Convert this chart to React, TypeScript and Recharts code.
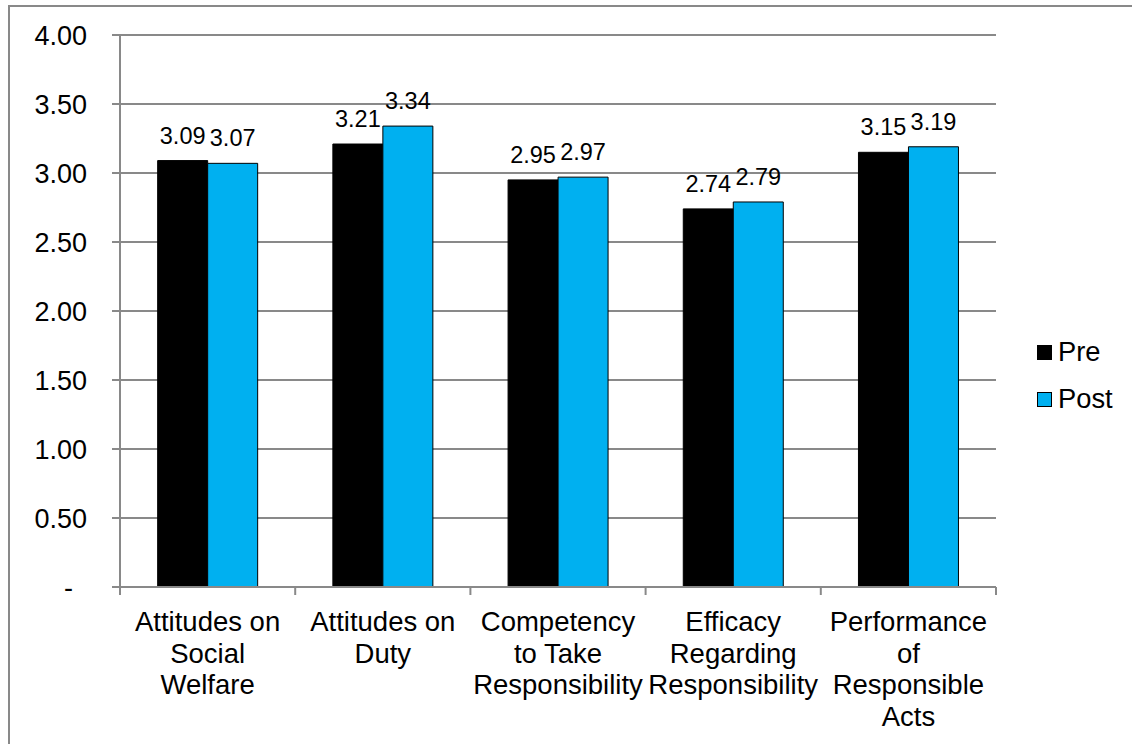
import React from 'react';
import { BarChart, Bar, XAxis, YAxis, CartesianGrid, LabelList, Legend } from 'recharts';

// Survey dimensions (x categories) and how each label wraps under the axis
const categories = [
  'Attitudes on Social Welfare',
  'Attitudes on Duty',
  'Competency to Take Responsibility',
  'Efficacy Regarding Responsibility',
  'Performance of Responsible Acts',
];
const categoryLines = [
  ['Attitudes on', 'Social', 'Welfare'],
  ['Attitudes on', 'Duty'],
  ['Competency', 'to Take', 'Responsibility'],
  ['Efficacy', 'Regarding', 'Responsibility'],
  ['Performance', 'of', 'Responsible', 'Acts'],
];

// Mean scores before and after
const preValues = [3.09, 3.21, 2.95, 2.74, 3.15];
const postValues = [3.07, 3.34, 2.97, 2.79, 3.19];

const seriesNames = { pre: 'Pre', post: 'Post' };
const seriesColors = { pre: '#000000', post: '#00B0F0' };

const yTicks = [0, 0.5, 1, 1.5, 2, 2.5, 3, 3.5, 4];

const data = categories.map((name, i) => ({
  name,
  pre: preValues[i],
  post: postValues[i],
}));

const FONT = '"Liberation Sans", Arial, sans-serif';
const AXIS_GRAY = '#898989';

const YTick = (props: any) => {
  const { x, y, payload } = props;
  const v = payload.value as number;
  const isZero = v === 0;
  return (
    <text
      x={isZero ? x - 14 : x}
      y={y}
      dy="0.355em"
      textAnchor="end"
      fontFamily={FONT}
      fontSize={27}
      fill="#000"
    >
      {isZero ? '-' : v.toFixed(2)}
    </text>
  );
};

// Category label plus tick marks on the band boundaries
const CategoryTick = (props: any) => {
  const { x, y, payload, width, visibleTicksCount } = props;
  const index = props.index ?? payload.index ?? 0;
  const count = visibleTicksCount || categories.length;
  const half = width / count / 2;
  const lines: string[] = categoryLines[index] || [String(payload.value)];
  return (
    <g>
      <line x1={x - half} x2={x - half} y1={y} y2={y + 8} stroke={AXIS_GRAY} strokeWidth={2} />
      {index === count - 1 && (
        <line x1={x + half} x2={x + half} y1={y} y2={y + 8} stroke={AXIS_GRAY} strokeWidth={2} />
      )}
      <text x={x} y={y} textAnchor="middle" fontFamily={FONT} fontSize={27.5} fill="#000">
        {lines.map((line, i) => (
          <tspan key={i} x={x} y={y + 44 + i * 31.6}>
            {line}
          </tspan>
        ))}
      </text>
    </g>
  );
};

const LegendBox = () => (
  <div style={{ fontFamily: FONT, fontSize: 27.3, color: '#000' }}>
    {(['pre', 'post'] as const).map((key) => (
      <div key={key} style={{ display: 'flex', alignItems: 'center', height: 47 }}>
        <span
          style={{
            display: 'inline-block',
            width: 15,
            height: 15,
            boxSizing: 'border-box',
            border: '1.5px solid #000',
            background: seriesColors[key],
            marginRight: 6,
          }}
        />
        <span style={{ lineHeight: 1 }}>{seriesNames[key]}</span>
      </div>
    ))}
  </div>
);

const labelStyle = { fontFamily: FONT, fontSize: 23.5, fill: '#000' };
const fmt = (v: any) => Number(v).toFixed(2);

export default function App() {
  return (
    <div
      style={{
        position: 'absolute',
        left: 0,
        top: 0,
        width: 1132,
        height: 744,
        overflow: 'hidden',
        background: '#fff',
      }}
    >
      <div
        style={{
          position: 'absolute',
          left: 8,
          top: 5,
          width: 1140,
          height: 760,
          border: `2px solid ${AXIS_GRAY}`,
          boxSizing: 'border-box',
        }}
      />
      <div style={{ position: 'absolute', left: 0, top: 0 }}>
        <BarChart
          width={1132}
          height={744}
          data={data}
          margin={{ top: 35, right: 136, bottom: 0, left: 0 }}
          barCategoryGap="21.5%"
          barGap={0}
        >
          <CartesianGrid vertical={false} stroke={AXIS_GRAY} strokeWidth={2} />
          <XAxis
            dataKey="name"
            height={157}
            interval={0}
            tickSize={0}
            tickMargin={0}
            tickLine={false}
            axisLine={{ stroke: AXIS_GRAY, strokeWidth: 2 }}
            tick={<CategoryTick />}
          />
          <YAxis
            width={120}
            domain={[0, 4]}
            ticks={yTicks}
            interval={0}
            tickSize={8}
            tickMargin={25}
            axisLine={{ stroke: AXIS_GRAY, strokeWidth: 2 }}
            tickLine={{ stroke: AXIS_GRAY, strokeWidth: 2 }}
            tick={<YTick />}
          />
          <Legend
            content={<LegendBox />}
            layout="horizontal"
            align="center"
            verticalAlign="middle"
            wrapperStyle={{ position: 'absolute', left: 1037, top: 328.5, width: 95 }}
          />
          <Bar
            dataKey="pre"
            name={seriesNames.pre}
            fill={seriesColors.pre}
            stroke="#000"
            strokeWidth={1}
            isAnimationActive={false}
          >
            <LabelList dataKey="pre" position="top" offset={17} formatter={fmt} style={labelStyle} />
          </Bar>
          <Bar
            dataKey="post"
            name={seriesNames.post}
            fill={seriesColors.post}
            stroke="#000"
            strokeWidth={1}
            isAnimationActive={false}
          >
            <LabelList dataKey="post" position="top" offset={17} formatter={fmt} style={labelStyle} />
          </Bar>
        </BarChart>
      </div>
    </div>
  );
}
